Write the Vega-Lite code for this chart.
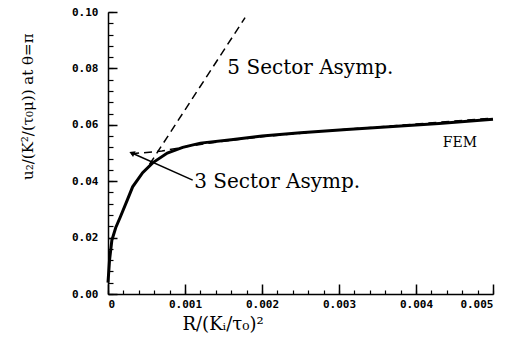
{
  "$schema": "https://vega.github.io/schema/vega-lite/v6.json",
  "width": 385,
  "height": 282,
  "autosize": {"type": "none"},
  "padding": {"left": 108, "top": 12, "right": 14, "bottom": 52},
  "background": "white",
  "config": {"view": {"stroke": null}},
  "datasets": {
    "fem": [
      {"x": 0, "y": 0.004},
      {"x": 0.00002, "y": 0.012},
      {"x": 0.00005, "y": 0.019},
      {"x": 0.0001, "y": 0.0235},
      {"x": 0.00016, "y": 0.0273},
      {"x": 0.00025, "y": 0.0333},
      {"x": 0.00032, "y": 0.038},
      {"x": 0.00045, "y": 0.043},
      {"x": 0.00058, "y": 0.0465},
      {"x": 0.00077, "y": 0.05},
      {"x": 0.00097, "y": 0.052},
      {"x": 0.0012, "y": 0.0535},
      {"x": 0.0016, "y": 0.0547},
      {"x": 0.002, "y": 0.056},
      {"x": 0.0025, "y": 0.0572},
      {"x": 0.0031, "y": 0.0583},
      {"x": 0.0035, "y": 0.059},
      {"x": 0.0043, "y": 0.0605},
      {"x": 0.005, "y": 0.062}
    ],
    "asym": [
      {"s": "3 Sector", "x": 0.0003, "y": 0.0497},
      {"s": "3 Sector", "x": 0.0007, "y": 0.0507},
      {"s": "3 Sector", "x": 0.001, "y": 0.0522},
      {"s": "3 Sector", "x": 0.0015, "y": 0.0542},
      {"s": "3 Sector", "x": 0.002, "y": 0.0558},
      {"s": "3 Sector", "x": 0.003, "y": 0.0582},
      {"s": "3 Sector", "x": 0.004, "y": 0.0603},
      {"s": "3 Sector", "x": 0.005, "y": 0.0624},
      {"s": "5 Sector", "x": 0.00054, "y": 0.046},
      {"s": "5 Sector", "x": 0.00178, "y": 0.098}
    ],
    "arrow": [
      {"x": 0.0011, "y": 0.0404},
      {"x": 0.00031, "y": 0.05}
    ],
    "head": [
      {"x": 0.00031, "y": 0.05}
    ],
    "labels": [
      {"x": 0.00155, "y": 0.0801, "t": "5 Sector Asymp."},
      {"x": 0.00112, "y": 0.0397, "t": "3 Sector Asymp."}
    ],
    "fem_label": [
      {"x": 0.00457, "y": 0.0535, "t": "FEM"}
    ],
    "minor": [{"x": 0, "y": 0}]
  },
  "layer": [
    {
      "data": {"name": "minor"},
      "mark": {"type": "point", "opacity": 0},
      "encoding": {
        "x": {"field": "x", "type": "quantitative", "scale": {"domain": [0, 0.005], "nice": false, "zero": false},
          "axis": {"orient": "bottom", "values": [0,0.0002,0.0004,0.0006,0.0008,0.001,0.0012,0.0014,0.0016,0.0018,0.002,0.0022,0.0024,0.0026,0.0028,0.003,0.0032,0.0034,0.0036,0.0038,0.004,0.0042,0.0044,0.0046,0.0048,0.005],
            "labels": false, "domain": false, "grid": false, "ticks": true, "tickSize": -4, "tickColor": "black", "tickWidth": 1.2, "title": null}},
        "y": {"field": "y", "type": "quantitative", "scale": {"domain": [0, 0.1], "nice": false},
          "axis": {"orient": "left", "values": [0,0.004,0.008,0.012,0.016,0.02,0.024,0.028,0.032,0.036,0.04,0.044,0.048,0.052,0.056,0.06,0.064,0.068,0.072,0.076,0.08,0.084,0.088,0.092,0.096,0.1],
            "labels": false, "domain": false, "grid": false, "ticks": true, "tickSize": -5, "tickColor": "black", "tickWidth": 1.2, "title": null}}
      }
    },
    {
      "data": {"name": "fem"},
      "mark": {"type": "line", "color": "black", "strokeWidth": 3},
      "encoding": {
        "x": {"field": "x", "type": "quantitative",
          "axis": {"orient": "bottom", "values": [0, 0.001, 0.002, 0.003, 0.004, 0.005], "grid": false,
            "labelExpr": "datum.value == 0 ? '0' : format(datum.value, '.3f')",
            "domainColor": "black", "domainWidth": 1.5, "ticks": true, "tickColor": "black", "tickWidth": 1.5, "tickSize": -10,
            "labelPadding": 14, "labelFont": "DejaVu Sans Mono", "labelFontWeight": "bold", "labelFontSize": 11, "labelColor": "black",
            "title": "R/(Kᵢ/τ₀)²", "titleFont": "DejaVu Serif", "titleFontSize": 18, "titleFontWeight": "normal", "titleColor": "black",
            "titleAnchor": "start", "titleAlign": "left", "titleX": 74, "titleY": 21, "titleBaseline": "top"}},
        "y": {"field": "y", "type": "quantitative",
          "axis": {"orient": "left", "values": [0, 0.02, 0.04, 0.06, 0.08, 0.1], "grid": false, "format": ".2f",
            "domainColor": "black", "domainWidth": 1.5, "ticks": true, "tickColor": "black", "tickWidth": 1.5, "tickSize": -9,
            "labelPadding": 19, "labelFont": "DejaVu Sans Mono", "labelFontWeight": "bold", "labelFontSize": 11, "labelColor": "black",
            "title": "u₂/(K²/(τ₀μ)) at θ=π", "titleFont": "DejaVu Serif", "titleFontSize": 15, "titleFontWeight": "normal", "titleColor": "black",
            "titleAnchor": "end", "titleAlign": "right", "titleX": -81, "titleY": 21, "titleAngle": -90, "titleBaseline": "middle"}}
      }
    },
    {
      "data": {"name": "asym"},
      "mark": {"type": "line", "color": "black", "strokeWidth": 1.5, "strokeDash": [8, 5]},
      "encoding": {
        "x": {"field": "x", "type": "quantitative", "axis": null},
        "y": {"field": "y", "type": "quantitative", "axis": null},
        "detail": {"field": "s"}
      }
    },
    {
      "data": {"name": "arrow"},
      "mark": {"type": "line", "color": "black", "strokeWidth": 1.5},
      "encoding": {
        "x": {"field": "x", "type": "quantitative", "axis": null},
        "y": {"field": "y", "type": "quantitative", "axis": null}
      }
    },
    {
      "data": {"name": "head"},
      "mark": {"type": "point", "shape": "triangle-up", "filled": true, "color": "black", "size": 40, "angle": 294, "opacity": 1},
      "encoding": {
        "x": {"field": "x", "type": "quantitative", "axis": null},
        "y": {"field": "y", "type": "quantitative", "axis": null}
      }
    },
    {
      "data": {"name": "labels"},
      "mark": {"type": "text", "font": "DejaVu Serif", "fontSize": 20, "color": "black", "baseline": "middle", "align": "left"},
      "encoding": {
        "x": {"field": "x", "type": "quantitative", "axis": null},
        "y": {"field": "y", "type": "quantitative", "axis": null},
        "text": {"field": "t"}
      }
    },
    {
      "data": {"name": "fem_label"},
      "mark": {"type": "text", "font": "DejaVu Serif", "fontSize": 14, "color": "black", "baseline": "middle", "align": "center"},
      "encoding": {
        "x": {"field": "x", "type": "quantitative", "axis": null},
        "y": {"field": "y", "type": "quantitative", "axis": null},
        "text": {"field": "t"}
      }
    }
  ],
  "resolve": {"axis": {"x": "independent", "y": "independent"}}
}
